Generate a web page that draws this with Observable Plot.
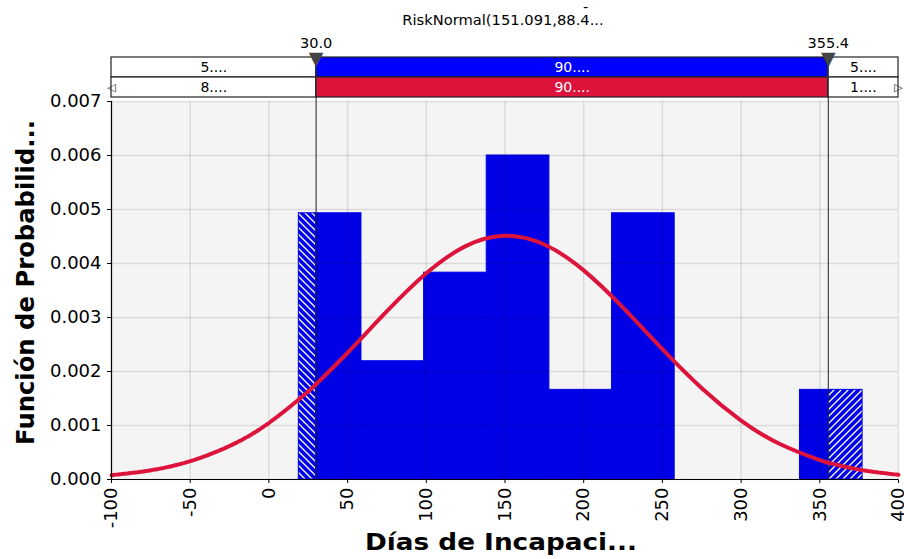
<!DOCTYPE html>
<html><head><meta charset="utf-8">
<script src="https://cdn.jsdelivr.net/npm/d3@7"></script>
<script src="https://cdn.jsdelivr.net/npm/@observablehq/plot@0.6"></script>
<style>
body{margin:0;background:#fff;font-family:"DejaVu Sans",Verdana,sans-serif;}
#wrap{position:relative;width:904px;height:559px;overflow:hidden;background:#fff}
#title{position:relative;height:30px;font-size:14.7px;color:#000}
#title span{position:absolute;white-space:pre;line-height:15px}
svg{overflow:visible;display:block}
</style></head><body>
<div id="wrap">
  <div id="title">
    <span id="t1" style="left:583px;top:-1px">-</span>
    <span id="t2" style="left:0;width:1006px;text-align:center;top:12px">RiskNormal(151.091,88.4...</span>
  </div>
  <div id="top"></div>
  <div id="main"></div>
</div>
<script>
// ---- data ----
const xTicks = [-100, -50, 0, 50, 100, 150, 200, 250, 300, 350, 400];
const yTicks = [0, 0.001, 0.002, 0.003, 0.004, 0.005, 0.006, 0.007];
const binLo = [19.0, 58.8, 98.6, 138.4, 178.2, 218.0, 257.8, 297.6, 337.4];
const binHi = [58.8, 98.6, 138.4, 178.2, 218.0, 257.8, 297.6, 337.4, 377.2];
const binDensity = [0.00493, 0.00219, 0.00383, 0.00600, 0.00166, 0.00493, 0, 0, 0.00166];
const curveX = [-100, -75, -50, -25, 0, 25, 30, 50, 75, 100, 125, 150, 175, 200, 225, 250, 275, 300, 325, 350, 355.4, 375, 400];
const curveY = [0.00008, 0.000171, 0.000339, 0.000621, 0.001047, 0.001632, 0.001766, 0.002347, 0.003116, 0.003819, 0.004321, 0.004513, 0.004351, 0.003873, 0.003182, 0.002413, 0.00169, 0.001092, 0.000652, 0.000359, 0.000312, 0.000183, 0.000086];
const delims = [30.0, 355.4];
const rowNames = ["fit", "input"];
const row1Labels = ["5....", "90....", "5...."];
const row2Labels = ["8....", "90....", "1...."];
const xDomain = [-100, 400];
const yLabel = "Función de Probabilid...";
const xLabel = "Días de Incapaci...";

const BLUE = "#0000e6", RED = "#dc143c";
const FONT = "DejaVu Sans";

// ---- top delimiter bar ----
const edges = [xDomain[0], delims[0], delims[1], xDomain[1]];
const cells = [];
[[row1Labels, "#0000ff"], [row2Labels, RED]].forEach(([labs, col], r) => {
  for (let i = 0; i < 3; i++) {
    cells.push({row: rowNames[r], x1: edges[i], x2: edges[i + 1], label: labs[i],
      fill: i === 1 ? col : "#ffffff", tfill: i === 1 ? "#ffffff" : "#000000"});
  }
});

const topPlot = Plot.plot({
  width: 904, height: 67, marginTop: 27, marginBottom: 0, marginLeft: 111, marginRight: 6,
  x: {domain: xDomain, axis: null},
  y: {domain: rowNames, axis: null, padding: 0},
  color: {type: "identity"},
  style: {fontFamily: FONT, fontSize: "14px", background: "transparent", overflow: "visible"},
  marks: [
    Plot.barX(cells, {x1: "x1", x2: "x2", y: "row", fill: "fill", stroke: "#222", strokeWidth: 1.2}),
    Plot.text(cells, {x: d => (d.x1 + d.x2) / 2, y: "row", text: "label", fill: "tfill", fontSize: 14}),
    Plot.ruleX(delims, {stroke: "#333", strokeWidth: 1}),
    Plot.text(delims, {x: d => d, frameAnchor: "top", text: d => d.toFixed(1), dy: -20, fontSize: 14.5, fill: "#000"}),
    Plot.text(delims, {x: d => d, frameAnchor: "top", text: () => "▼", dy: -6, fontSize: 19, fill: "#444"}),
    Plot.text([xDomain[0]], {x: d => d, y: () => rowNames[1], text: () => "◁", fontSize: 11, dx: 0, fill: "#222"}),
    Plot.text([xDomain[1]], {x: d => d, y: () => rowNames[1], text: () => "▷", fontSize: 11, dx: 0, fill: "#222"})
  ]
});
document.getElementById("top").appendChild(topPlot);

// ---- histogram segments split at delimiters ----
const solid = [], hatchL = [], hatchR = [];
binLo.forEach((lo, i) => {
  const hi = binHi[i], d = binDensity[i];
  if (lo < delims[0]) hatchL.push({x1: lo, x2: Math.min(hi, delims[0]), d});
  const a = Math.max(lo, delims[0]), b = Math.min(hi, delims[1]);
  if (b > a) solid.push({x1: a, x2: b, d});
  if (hi > delims[1]) hatchR.push({x1: Math.max(lo, delims[1]), x2: hi, d});
});

const curve = curveX.map((x, i) => ({x, y: curveY[i]}));
const cLeft = curve.filter(p => p.x <= delims[0]);
const cMid = curve.filter(p => p.x >= delims[0] && p.x <= delims[1]);
const cRight = curve.filter(p => p.x >= delims[1]);

const lineOpts = {x: "x", y: "y", stroke: RED, strokeWidth: 4, curve: "natural"};

const main = Plot.plot({
  width: 904, height: 462, marginTop: 4, marginBottom: 80, marginLeft: 111, marginRight: 6,
  x: {domain: xDomain, ticks: xTicks, tickFormat: d => String(d), tickRotate: -90, tickSize: 4, tickPadding: 4, label: null},
  y: {domain: [0, 0.007], ticks: yTicks, tickFormat: d3.format(".3f"), tickSize: 4, tickPadding: 6, label: null},
  style: {fontFamily: FONT, fontSize: "18px", background: "transparent", overflow: "visible", color: "#000"},
  marks: [
    Plot.frame({fill: "#f4f4f4", stroke: null}),
    Plot.rectY(solid, {x1: "x1", x2: "x2", y1: 0, y2: "d", fill: BLUE, stroke: BLUE, strokeWidth: 1}),
    Plot.rectY(hatchL, {x1: "x1", x2: "x2", y1: 0, y2: "d", fill: "url(#hatchL)", stroke: BLUE, strokeWidth: 1}),
    Plot.rectY(hatchR, {x1: "x1", x2: "x2", y1: 0, y2: "d", fill: "url(#hatchR)", stroke: BLUE, strokeWidth: 1}),
    Plot.ruleX(xTicks, {stroke: "#000", strokeOpacity: 0.1, strokeWidth: 1.5}),
    Plot.ruleY(yTicks, {stroke: "#000", strokeOpacity: 0.1, strokeWidth: 1.5}),
    Plot.ruleX(delims, {stroke: "#222", strokeWidth: 1, insetTop: -5}),
    Plot.line(cLeft, {...lineOpts, strokeDasharray: "3.5,1.8"}),
    Plot.line(cRight, {...lineOpts, strokeDasharray: "3.5,1.8"}),
    Plot.line(cMid, lineOpts),
    Plot.ruleY([0], {stroke: "#000", strokeWidth: 1.2}),
    Plot.ruleX([xDomain[0]], {stroke: "#000", strokeWidth: 1.2}),
    Plot.text([yLabel], {text: d => d, frameAnchor: "left", textAnchor: "middle", rotate: -90, dx: -86, dy: -8,
      fontSize: 25, fontWeight: "bold", fontFamily: FONT, fill: "#000"}),
    Plot.text([xLabel], {text: d => d, frameAnchor: "bottom", textAnchor: "middle", lineAnchor: "bottom", dy: 70, dx: -4,
      fontSize: 23, fontWeight: "bold", fontFamily: FONT, fill: "#000"})
  ]
});

// compress bold axis titles to the reference's condensed width
const sel = d3.select(main);
sel.selectAll("text").filter(function () { return this.textContent === yLabel; })
  .attr("textLength", 325).attr("lengthAdjust", "spacingAndGlyphs");
sel.selectAll("text").filter(function () { return this.textContent === xLabel; })
  .attr("textLength", 272).attr("lengthAdjust", "spacingAndGlyphs");

// hatch patterns
const defs = sel.insert("defs", ":first-child");
function pattern(id, back) {
  const s = 7;
  const p = defs.append("pattern").attr("id", id).attr("patternUnits", "userSpaceOnUse")
    .attr("width", s).attr("height", s);
  p.append("rect").attr("width", s).attr("height", s).attr("fill", BLUE);
  p.append("path")
    .attr("d", back
      ? `M0,0L${s},${s}M${-s/2},${s/2}L${s/2},${1.5*s}M${s/2},${-s/2}L${1.5*s},${s/2}`
      : `M0,${s}L${s},0M${-s/2},${s/2}L${s/2},${-s/2}M${s/2},${1.5*s}L${1.5*s},${s/2}`)
    .attr("stroke", "#fff").attr("stroke-width", 1.3);
}
pattern("hatchL", true);
pattern("hatchR", false);

document.getElementById("main").appendChild(main);
</script>
</body></html>
